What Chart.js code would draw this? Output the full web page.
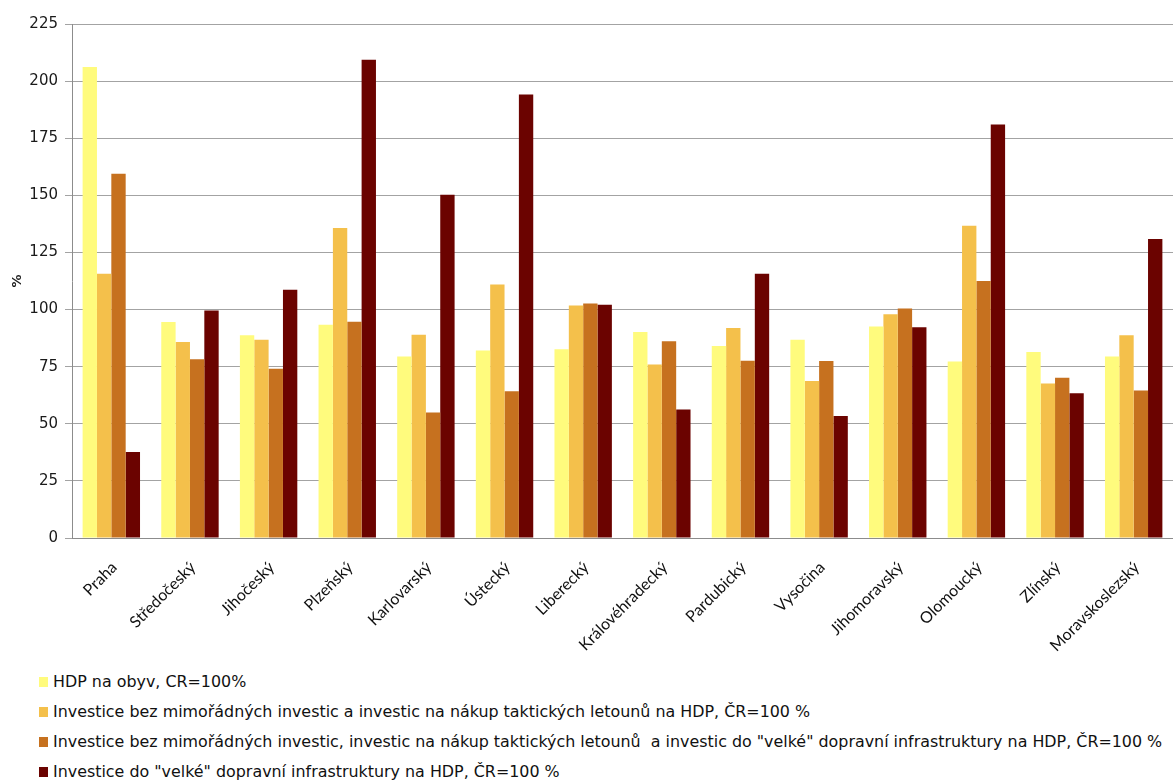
<!DOCTYPE html>
<html>
<head>
<meta charset="utf-8">
<script src="https://cdn.jsdelivr.net/npm/chart.js@4.4.1/dist/chart.umd.min.js"></script>
<style>
  html, body { margin: 0; padding: 0; background: #fff; }
  #wrap { position: relative; width: 1173px; height: 781px; overflow: hidden; }
  #c { position: absolute; left: 0; top: 0; }
  #legend { position: absolute; left: 39px; top: 667px; font-family: "DejaVu Sans", sans-serif; font-size: 15.9px; color: #111; }
  #legend .it { height: 30px; line-height: 30px; white-space: pre; display: flex; align-items: center; }
  #legend .sw { width: 9px; height: 10px; margin-right: 5px; display: inline-block; }
</style>
</head>
<body>
<div id="wrap">
  <canvas id="c" width="1173" height="665"></canvas>
  <div id="legend"></div>
</div>
<script>
const categories = ["Praha","Středočeský","Jihočeský","Plzeňský","Karlovarský","Ústecký","Liberecký","Královéhradecký","Pardubický","Vysočina","Jihomoravský","Olomoucký","Zlínský","Moravskoslezský"];
const seriesNames = [
  "HDP na obyv, CR=100%",
  "Investice bez mimořádných investic a investic na nákup taktických letounů na HDP, ČR=100 %",
  "Investice bez mimořádných investic, investic na nákup taktických letounů  a investic do \"velké\" dopravní infrastruktury na HDP, ČR=100 %",
  "Investice do \"velké\" dopravní infrastruktury na HDP, ČR=100 %"
];
const hdpNaObyv      = [206.2, 94.5, 88.7, 93.4, 79.5, 82.1, 82.6, 90.2, 84.0, 86.8, 92.6, 77.3, 81.4, 79.5];
const investiceBez   = [115.7, 85.8, 86.8, 135.7, 89.0, 111.0, 101.8, 75.9, 91.9, 68.7, 97.9, 136.7, 67.6, 88.7];
const investiceBezVI = [159.5, 78.2, 74.1, 94.7, 54.9, 64.2, 102.6, 86.1, 77.6, 77.5, 100.5, 112.5, 70.2, 64.6];
const investiceVelke = [37.6, 99.6, 108.7, 209.4, 150.3, 194.1, 102.1, 56.2, 115.7, 53.4, 92.3, 181.0, 63.4, 130.9];
const yTicks = [0, 25, 50, 75, 100, 125, 150, 175, 200, 225];
const colors = ["#FFFB7D", "#F4C04B", "#C6711F", "#6B0300"];

const seriesValues = [hdpNaObyv, investiceBez, investiceBezVI, investiceVelke];
const datasets = seriesValues.map((v, i) => ({
  label: seriesNames[i],
  data: v,
  backgroundColor: colors[i],
  borderWidth: 0,
  categoryPercentage: 0.73,
  barPercentage: 1.0
}));

const chart = new Chart(document.getElementById('c'), {
  type: 'bar',
  data: { labels: categories, datasets },
  options: {
    responsive: false,
    animation: false,
    layout: { padding: { top: 24, right: 0, left: 0, bottom: 0 } },
    plugins: { legend: { display: false }, tooltip: { enabled: false } },
    scales: {
      x: {
        grid: { display: false },
        border: { display: true, color: '#8c8c8c', width: 1 },
        ticks: {
          color: '#111',
          font: { family: 'Lato', size: 16 },
          maxRotation: 45, minRotation: 45,
          autoSkip: false,
          padding: 12,
          labelOffset: 3
        },
        afterFit: s => { s.height = 127; }
      },
      y: {
        min: 0, max: 225,
        afterBuildTicks: s => { s.ticks = yTicks.map(v => ({ value: v })); },
        grid: { color: '#a3a3a3', lineWidth: 1, tickLength: 7, drawTicks: true },
        border: { display: true, color: '#8c8c8c', width: 1 },
        ticks: { color: '#1a1a1a', font: { family: 'DejaVu Sans', size: 15 }, padding: 7 },
        title: { display: true, text: '%', color: '#1a1a1a', font: { family: 'DejaVu Sans', size: 13, weight: 'bold' }, padding: { top: 10, bottom: 0 } },
        afterFit: s => { s.width = 72; }
      }
    }
  }
});

const lg = document.getElementById('legend');
chart.data.datasets.forEach(ds => {
  const it = document.createElement('div'); it.className = 'it';
  const sw = document.createElement('span'); sw.className = 'sw'; sw.style.background = ds.backgroundColor;
  const tx = document.createElement('span'); tx.textContent = ds.label;
  it.appendChild(sw); it.appendChild(tx); lg.appendChild(it);
});
</script>
</body>
</html>
